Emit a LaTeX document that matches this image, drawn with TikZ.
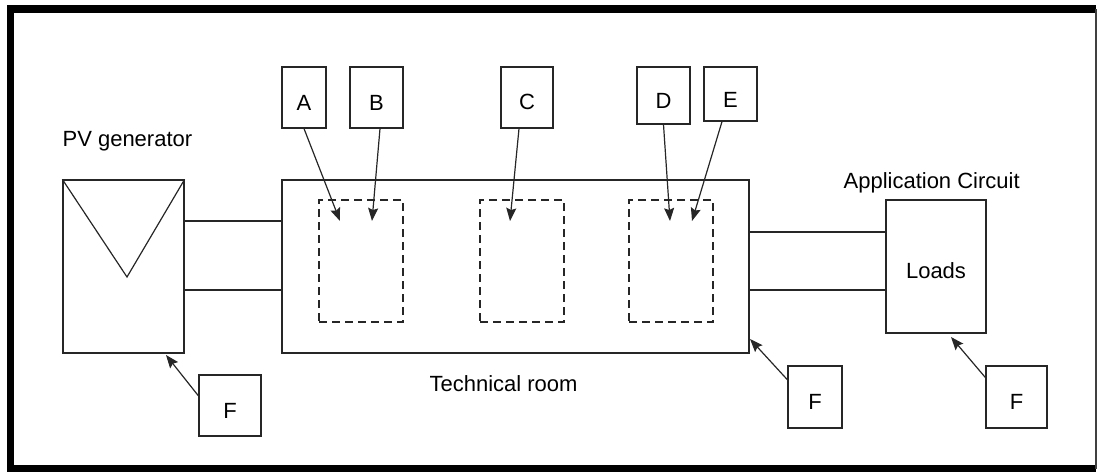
\documentclass[tikz,border=0pt]{standalone}
\usepackage{fontspec}
\setmainfont{Liberation Sans}
\usepackage{tikz}
\usetikzlibrary{positioning, arrows.meta}

\tikzset{
  tag/.style={draw,inner sep=0pt,text height=25pt,minimum height=61pt},
  unit/.style={draw,dash pattern=on 8pt off 5pt,minimum width=84pt,minimum height=122pt},
  block/.style={draw,inner sep=0pt},
  txt/.style={inner sep=0pt,anchor=base west}
}

\begin{document}
\begin{tikzpicture}[x=1pt,y=-1pt,->,>={Stealth[length=13pt,width=10pt,inset=2pt]},line width=1.2pt,
    draw=black!85,font=\fontsize{22}{26}\selectfont]
    \useasboundingbox (0,0) rectangle (1097,472);

    % frame
    \draw[-,line width=7.5pt,black] (1096,9) -- (10.5,9) -- (10.5,468.5) -- (1096,468.5);
    \draw[-,line width=1.5pt,black!75] (1096,9) -- (1096,468.5);

    % main blocks
    \node[block,minimum width=121pt,minimum height=173pt] (pv) at (123.5,266.5) {};
    \node[block,minimum width=467pt,minimum height=173pt] (room) at (515.5,266.5) {};
    \node[block,minimum width=100pt,minimum height=133pt,text height=25pt] (loads) at (936,266.5) {Loads};

    \coordinate (pv-v) at (127,277);
    \draw[-] (pv.north west) -- (pv-v) -- (pv.north east);

    \node[txt] (pv-lbl) at (62,146) {PV generator};
    \node[txt] (room-lbl) at (429,391) {Technical room};
    \node[txt] (app-lbl) at (843,188) {Application Circuit};

    % wiring
    \draw[-] ([yshift=45.5pt]pv.east) -- ([yshift=45.5pt]room.west);
    \draw[-] ([yshift=-23.5pt]pv.east) -- ([yshift=-23.5pt]room.west);
    \draw[-] ([yshift=34.5pt]room.east) -- ([yshift=34.5pt]loads.west);
    \draw[-] ([yshift=-23.5pt]room.east) -- ([yshift=-23.5pt]loads.west);

    % equipment in the technical room
    \node[unit] (u1) at (361,261) {};
    \node[unit] (u2) at (522,261) {};
    \node[unit] (u3) at (671,261) {};

    \node[tag,minimum width=44pt] (A) at (304,97.5) {A};
    \node[tag,minimum width=53pt] (B) at (376.5,97.5) {B};
    \node[tag,minimum width=52pt] (C) at (527,97.5) {C};
    \node[tag,minimum width=53pt,minimum height=57pt] (D) at (663.5,95.5) {D};
    \node[tag,minimum width=53pt,minimum height=54pt,text height=27pt] (E) at (730.5,94) {E};

    \coordinate (a-in) at (340,221);
    \coordinate (b-in) at (372,221);
    \coordinate (c-in) at (510,221);
    \coordinate (d-in) at (670,221);
    \coordinate (e-in) at (692,221);

    \draw (A.south) -- (a-in);
    \draw ([xshift=3.5pt]B.south) -- (b-in);
    \draw ([xshift=-8pt]C.south) -- (c-in);
    \draw (D.south) -- (d-in);
    \draw ([xshift=-8.5pt]E.south) -- (e-in);

    % F markers
    \node[tag,minimum width=62pt] (F1) at (230,405.5) {F};
    \node[tag,minimum width=54pt,minimum height=62pt] (F2) at (815,397) {F};
    \node[tag,minimum width=61pt,minimum height=62pt] (F3) at (1016.5,397) {F};

    \coordinate (f1-in) at (166,355);
    \coordinate (f2-in) at (750,339);
    \coordinate (f3-in) at (951,337);

    \draw (F1.163) -- (f1-in);
    \draw (F2.148) -- (f2-in);
    \draw (F3.148) -- (f3-in);
\end{tikzpicture}
\end{document}
